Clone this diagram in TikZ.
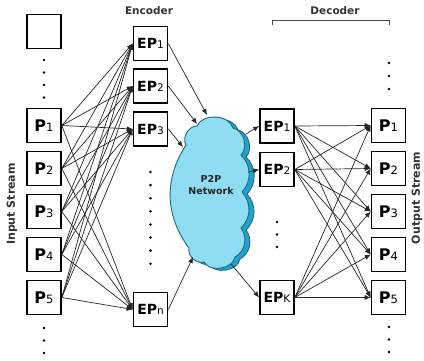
\documentclass[tikz,border=0pt]{standalone}
\usepackage{fontspec}
\setmainfont{DejaVu Sans}
\usetikzlibrary{arrows.meta}
\definecolor{cloudfill}{HTML}{8FDDF3}
\definecolor{cloudshade}{HTML}{22A3CB}
\definecolor{cloudline}{HTML}{1E6A7E}
\newcommand\plbl[1]{{\fontsize{16}{16}\selectfont\bfseries P}{\fontsize{11.5}{11.5}\selectfont #1}}
\newcommand\eplbl[1]{{\fontsize{14}{14}\selectfont\bfseries EP}{\fontsize{10.5}{10.5}\selectfont #1}}
\newcommand\cloudpath{(197,126) to[bend left=70] (233,128) to[bend left=60] (241,155) to[bend left=45] (242,192) to[bend left=45] (241,228) to[bend left=50] (235,257) to[bend left=70] (204,262) to[bend left=60] (189,248) to[bend left=35] (186,145) to[bend left=60] (197,126) -- cycle}
\tikzset{
  pbox/.style={draw,line width=1.6pt,minimum width=34pt,minimum height=34pt,inner sep=0pt,fill=white},
  conn/.style={line width=0.7pt,-{Latex[length=6pt,width=5pt]},draw=black!85},
  dotm/.style={fill=black},
  lbl/.style={font=\fontsize{10.5}{10.5}\selectfont\bfseries,text=black!80}
}
\begin{document}
\begin{tikzpicture}[x=1pt,y=-1pt]
\useasboundingbox (0,0) rectangle (424,360);
% cloud
\begin{scope}[shift={(5,2)}]
\filldraw[fill=cloudshade,draw=cloudline,line width=0.9pt] \cloudpath;
\end{scope}
\filldraw[fill=cloudfill,draw=cloudline,line width=0.9pt] \cloudpath;
\node[font=\fontsize{9.5}{12.5}\selectfont\bfseries,align=center,text=black!85] (cl) at (211,185) {P2P\\Network};
\coordinate (ci1) at (207,115);
\coordinate (ci2) at (197,124);
\coordinate (ci3) at (183,147);
\coordinate (ci4) at (193,257);
\coordinate (co1) at (246,134);
\coordinate (co2) at (248,172);
\coordinate (co3) at (231,264);
% input column
\node[pbox] (p0) at (44,31.5) {};
\foreach \i/\y in {1/125.5,2/168.5,3/211.5,4/254.5,5/297.5}{
  \node[pbox] (p\i) at (44,\y) {\plbl{\i}};
  \node[pbox] (q\i) at (388.5,\y) {\plbl{\i}};
}
% encoder column
\node[pbox] (e1) at (150.5,43.5) {\eplbl{1}};
\node[pbox] (e2) at (150.5,86) {\eplbl{2}};
\node[pbox] (e3) at (150.5,129) {\eplbl{3}};
\node[pbox] (en) at (150.5,309.5) {\eplbl{n}};
% decoder column
\node[pbox] (d1) at (277,126) {\eplbl{1}};
\node[pbox] (d2) at (277,169.5) {\eplbl{2}};
\node[pbox] (dk) at (277,297.5) {\eplbl{K}};
% labels
\node[lbl] (enc) at (149,11) {Encoder};
\node[lbl] (dec) at (335,11) {Decoder};
\coordinate (b1) at (272,25);
\coordinate (b2) at (272,20);
\coordinate (b3) at (389,20);
\coordinate (b4) at (389,25);
\draw[line width=0.8pt,black!70] (b1) -- (b2) -- (b3) -- (b4);
\node[lbl,rotate=90,font=\fontsize{11}{11}\selectfont\bfseries] (ins) at (12,204) {Input Stream};
\node[lbl,rotate=90,font=\fontsize{11}{11}\selectfont\bfseries] (outs) at (417,198) {Output Stream};
% dots
\foreach \y in {60,72.5,85,97.5}{\fill[dotm] (44,\y) circle (1.4pt);}
\foreach \y in {328,340.5,353}{\fill[dotm] (44,\y) circle (1.4pt);}
\foreach \k in {0,...,7}{\fill[dotm] (150.5,172+13.1*\k) circle (1.4pt);}
\foreach \y in {222,234.5,247}{\fill[dotm] (277,\y) circle (1.4pt);}
\foreach \y in {63,76,89}{\fill[dotm] (389,\y) circle (1.4pt);}
\foreach \y in {327,339.5,352}{\fill[dotm] (389,\y) circle (1.4pt);}
% encoder connections
\foreach \i in {1,...,5}{
  \foreach \j in {e1,e2,e3,en}{
    \draw[conn] (p\i.east) -- (\j.west);
  }
}
% decoder connections
\foreach \j in {d1,d2,dk}{
  \foreach \i in {1,...,5}{
    \draw[conn] (\j.east) -- (q\i.west);
  }
}
% to and from cloud
\draw[conn] (e1.east) -- (ci1);
\draw[conn] (e2.east) -- (ci2);
\draw[conn] (e3.east) -- (ci3);
\draw[conn] (en.east) -- (ci4);
\draw[conn] (co1) -- (d1.west);
\draw[conn] (co2) -- (d2.west);
\draw[conn] (co3) -- (dk.west);
\end{tikzpicture}
\end{document}
